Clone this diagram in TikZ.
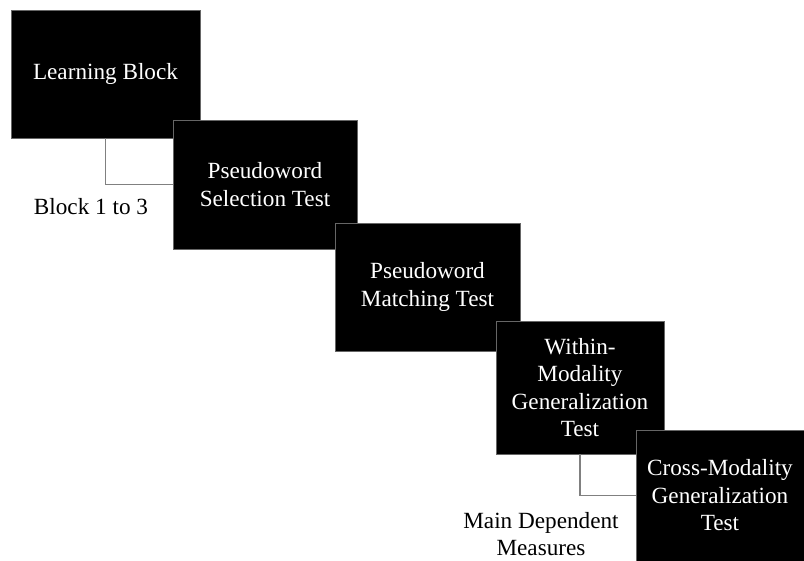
\documentclass[tikz,border=0pt]{standalone}
\usepackage{fontspec}
\setmainfont{Liberation Serif}
\usetikzlibrary{calc}
\tikzset{
	stagebox/.style={fill=black, draw=black!60, line width=0.4pt, text=white, align=center,
		inner sep=0pt, font=\fontsize{17.4}{20.6}\selectfont},
	notetext/.style={align=center, inner sep=0pt, font=\fontsize{17.4}{20.6}\selectfont},
	bracket/.style={line width=0.8pt, color=black!50}
}

\begin{document}
\begin{tikzpicture}[x=0.75pt, y=-0.75pt]
			%%%%% START %%%%%
			
			\useasboundingbox (0, 0) rectangle (804, 561);
			
			\node[stagebox, minimum width=141.75pt, minimum height=96pt] (learn) at (105.5, 74) {Learning Block};
			\node[stagebox, minimum width=138pt, minimum height=96.75pt] (select) at (265, 184.5) {Pseudoword\\Selection Test};
			\node[stagebox, minimum width=138.75pt, minimum height=96pt] (match) at (427.5, 287) {Pseudoword\\Matching Test};
			\node[stagebox, minimum width=126pt, minimum height=99.75pt] (within) at (580, 387.5) {Within-\\Modality\\Generalization\\Test};
			\node[stagebox, minimum width=126pt, minimum height=98.25pt] (cross) at (720, 495.5) {Cross-Modality\\Generalization\\Test};
			
			\draw[bracket] (learn.south) |- (select.west);
			\draw[bracket] (within.south) |- (cross.west);
			
			\node[notetext] (blocks) at (91, 207) {Block 1 to 3};
			\node[notetext] (measures) at (541, 534) {Main Dependent\\Measures};
			
			%%%%% END %%%%%
		\end{tikzpicture}
\end{document}
